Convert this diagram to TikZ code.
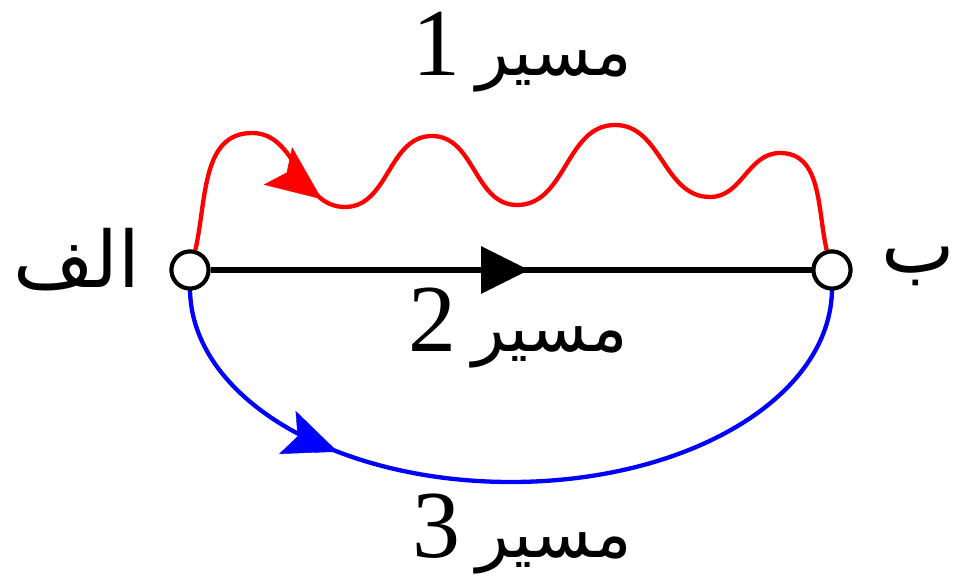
\documentclass[tikz,border=0pt]{standalone}
\usepackage{fontspec}
\TeXXeTstate=1
\newfontfamily\arabicfont[Script=Arabic]{DejaVu Sans}
\newfontfamily\digitfont{Liberation Serif}
\usetikzlibrary{arrows.meta,decorations.markings}
\tikzset{
  vtx/.style={circle, draw=black, fill=white, line width=4pt, minimum size=37pt, inner sep=0pt},
  lbl/.style={inner sep=0pt, text=black},
  arfont/.style={font=\arabicfont\fontsize{78}{84}\selectfont},
  redpath/.style={draw=red, line width=4.3pt},
  bluepath/.style={draw=blue, line width=4.3pt},
  blackpath/.style={draw=black, line width=6.5pt},
  midarrow/.style 2 args={postaction={decorate, decoration={markings,
      mark=at position #1 with {\arrow{#2}}}}},
}
\newcommand{\pathlabel}[1]{{\digitfont\fontsize{96}{100}\selectfont #1}\hspace{16pt}{\arabicfont\fontsize{68}{74}\selectfont\beginR مسیر\endR}}
\begin{document}
\begin{tikzpicture}[x=1pt, y=-1pt]
\useasboundingbox (0,0) rectangle (961,583);

% path 3 (blue)
\coordinate (bot) at (511,482);
\draw[bluepath] (190,288) .. controls (190,397) and (334,482) .. (bot)
   .. controls (688,482) and (832,397) .. (832,288);
\path[midarrow={0.57}{Stealth[length=54pt,width=46pt,inset=11pt,blue]}]
   (190,288) .. controls (190,397) and (334,482) .. (bot);

% path 1 (red, wavy)
\coordinate (p1) at (252,133);
\coordinate (t1) at (345,207);
\coordinate (p2) at (432,136);
\coordinate (t2) at (517,205);
\coordinate (p3) at (615,125);
\coordinate (t3) at (710,197);
\coordinate (p4) at (780,153);

% nodes
\node[vtx] (A) at (190,270) {};
\node[vtx] (B) at (832,270) {};

\draw[redpath] (A.75) to[out=77,in=180] (p1) to[out=0,in=180] (t1)
   to[out=0,in=180] (p2) to[out=0,in=180] (t2) to[out=0,in=180] (p3)
   to[out=0,in=180] (t3) to[out=0,in=180] (p4) to[out=0,in=103] (B.105);
\path[midarrow={0.8}{Stealth[length=55pt,width=47pt,inset=11pt,red]}]
   (p1) to[out=0,in=180] (t1);

% path 2 (black, straight)
\draw[blackpath, midarrow={0.53}{Triangle[length=48pt,width=46pt,black]}] (A) -- (B);
\node[vtx] at (A) {};
\node[vtx] at (B) {};

% labels
\node[lbl] (l1) at (522,52) {\pathlabel{1}};
\node[lbl] (l2) at (518,328) {\pathlabel{2}};
\node[lbl] (l3) at (522,534) {\pathlabel{3}};
\node[lbl, arfont] (la) at (77,260) {\beginR الف\endR};
\node[lbl, arfont] (lb) at (918,266) {\beginR ب\endR};
\end{tikzpicture}
\end{document}
